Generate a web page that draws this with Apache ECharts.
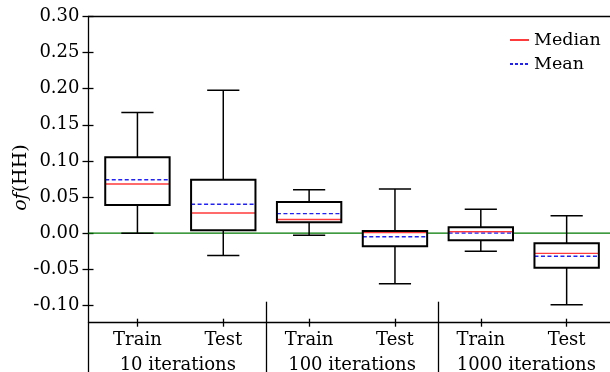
<!DOCTYPE html>
<html><head><meta charset="utf-8">
<script src="https://cdn.jsdelivr.net/npm/echarts@6/dist/echarts.min.js"></script>
<style>html,body{margin:0;padding:0;background:#fff}#c{width:610px;height:372px}</style>
</head><body><div id="c"></div>
<script>
// ---- data ----
const categories = ['Train','Test','Train','Test','Train','Test'];
const groups = ['10 iterations','100 iterations','1000 iterations'];
const positions = [1,2,3,4,5,6];
const whiskerLow  = [0.000, -0.031, -0.003, -0.070, -0.025, -0.099];
const q1          = [0.039,  0.004,  0.015, -0.018, -0.010, -0.048];
const median      = [0.068,  0.028,  0.019,  0.001,  0.002, -0.028];
const q3          = [0.105,  0.074,  0.043,  0.003,  0.008, -0.014];
const whiskerHigh = [0.167,  0.198,  0.060,  0.061,  0.033,  0.024];
const mean        = [0.074,  0.040,  0.027, -0.005,  0.000, -0.032];
const yTicks = [-0.10,-0.05,0.00,0.05,0.10,0.15,0.20,0.25,0.30];
const zeroLevel = 0;

const FONT = 'DejaVu Serif';
const XMIN = 0.43, XMAX = 6.505, YMIN = -0.124, YMAX = 0.30;

const boxData = positions.map((p,i)=>[p, whiskerLow[i], q1[i], median[i], q3[i], whiskerHigh[i], mean[i]]);

function renderItem(params, api){
  const x = api.value(0);
  const lo = api.value(1), a = api.value(2), md = api.value(3), b = api.value(4), hi = api.value(5), mn = api.value(6);
  const bw = api.size([0.75, 0])[0];
  const hw = bw/2, cw = bw/4;
  const c = v => api.coord([x, v]);
  const pLo = c(lo), pA = c(a), pMd = c(md), pB = c(b), pHi = c(hi), pMn = c(mn);
  const cx = pA[0];
  const blk = {stroke:'#000', lineWidth:1.5, fill:null};
  return {type:'group', children:[
    {type:'line', shape:{x1:cx,y1:pHi[1],x2:cx,y2:pB[1]}, style:blk},
    {type:'line', shape:{x1:cx,y1:pA[1],x2:cx,y2:pLo[1]}, style:blk},
    {type:'line', shape:{x1:cx-cw,y1:pHi[1],x2:cx+cw,y2:pHi[1]}, style:blk},
    {type:'line', shape:{x1:cx-cw,y1:pLo[1],x2:cx+cw,y2:pLo[1]}, style:blk},
    {type:'rect', shape:{x:cx-hw,y:pB[1],width:bw,height:pA[1]-pB[1]}, style:{fill:'#fff',stroke:null}},
    {type:'line', shape:{x1:cx-hw,y1:pMd[1],x2:cx+hw,y2:pMd[1]}, style:{stroke:'#ff3a3a',lineWidth:1.4}},
    {type:'line', shape:{x1:cx-hw,y1:pMn[1],x2:cx+hw,y2:pMn[1]}, style:{stroke:'#2020ff',lineWidth:1.4,lineDash:[4,2.5]}},
    {type:'rect', shape:{x:cx-hw,y:pB[1],width:bw,height:pA[1]-pB[1]}, style:{fill:null,stroke:'#000',lineWidth:2}}
  ]};
}

const baseX = {type:'value', min:XMIN, max:XMAX, position:'bottom', offset:0, splitLine:{show:false},
  axisLine:{show:false, onZero:false}, axisTick:{show:false}, axisLabel:{show:false}};
function mkX(extra){
  const o = Object.assign({}, baseX, extra);
  o.axisLine = Object.assign({}, extra.axisLine || baseX.axisLine);
  o.axisLine.onZero = false;
  return o;
}

const option = {
  animation:false,
  textStyle:{fontFamily:FONT, color:'#000'},
  grid:{left:88.5, top:16.5, right:0, bottom:49.3, containLabel:false, outerBoundsMode:'none'},
  legend:{
    orient:'vertical', left:504, top:26, itemWidth:19, itemHeight:10, itemGap:6,
    itemStyle:{opacity:0},
    textStyle:{fontFamily:FONT, fontSize:17.5, color:'#000'},
    data:['Median','Mean']
  },
  xAxis:[
    mkX({
      axisLine:{show:true, lineStyle:{color:'#000', width:1.3}},
      axisTick:{show:true, inside:false, length:4, customValues:positions, lineStyle:{color:'#000', width:1.3}},
      axisLabel:{show:true, customValues:positions, margin:9, fontFamily:FONT, fontSize:18, color:'#000',
        formatter:v=>categories[Math.round(v)-1]}
    }),
    mkX({
      axisTick:{show:true, inside:false, length:50, customValues:[XMIN,2.5,4.5], lineStyle:{color:'#000', width:1.3}},
      axisLabel:{show:true, customValues:[1.47,3.5,5.53], margin:34, fontFamily:FONT, fontSize:18, color:'#000',
        formatter:v=>groups[Math.round((v-1)/2)]}
    }),
    mkX({
      axisTick:{show:true, inside:true, length:4, customValues:positions, lineStyle:{color:'#000', width:1.3}}
    }),
    mkX({
      axisTick:{show:true, inside:true, length:21, customValues:[2.5,4.5], lineStyle:{color:'#000', width:1.3}}
    }),
    mkX({position:'top', axisLine:{show:true, lineStyle:{color:'#000', width:1.3}}})
  ],
  yAxis:[
    {type:'value', min:YMIN, max:YMAX, position:'left', splitLine:{show:false},
     axisLine:{show:true, onZero:false, lineStyle:{color:'#000', width:1.3}},
     axisTick:{show:true, inside:false, length:6, customValues:yTicks, lineStyle:{color:'#000', width:1.3}},
     axisLabel:{show:true, customValues:yTicks, margin:9, fontFamily:FONT, fontSize:18, color:'#000',
       formatter:v=>(v<0?'-':'')+Math.abs(v).toFixed(2)},
     name:'{i|of}{r|(HH)}', nameLocation:'middle', nameGap:58, nameRotate:90, nameMoveOverlap:false,
     nameTextStyle:{padding:[0,16,0,0], rich:{i:{fontFamily:FONT, fontStyle:'italic', fontSize:19, color:'#000'}, r:{fontFamily:FONT, fontSize:19, color:'#000'}}}
    },
    {type:'value', min:YMIN, max:YMAX, position:'left', splitLine:{show:false}, axisLine:{show:false, onZero:false},
     axisTick:{show:true, inside:true, length:5, customValues:yTicks, lineStyle:{color:'#000', width:1.3}},
     axisLabel:{show:false}}
  ],
  series:[
    {type:'line', name:'zero', data:[[XMIN,zeroLevel],[XMAX,zeroLevel]], symbol:'none', silent:true, z:1,
     lineStyle:{color:'#007a00', width:1.3}, itemStyle:{color:'#007a00'}},
    {type:'custom', name:'boxes', xAxisIndex:0, yAxisIndex:0, data:boxData, renderItem:renderItem,
     encode:{x:0, y:[1,2,3,4,5,6]}, z:3},
    {type:'line', name:'Median', data:[], symbol:'none', lineStyle:{color:'#ff3a3a', width:1.6}, itemStyle:{color:'#ff3a3a'}},
    {type:'line', name:'Mean', data:[], symbol:'none', lineStyle:{color:'#2020ff', width:1.4, type:[3,2]}, itemStyle:{color:'#2020ff'}}
  ]
};
const chart = echarts.init(document.getElementById('c'), null, {renderer:'canvas'});
chart.setOption(option);
</script></body></html>
